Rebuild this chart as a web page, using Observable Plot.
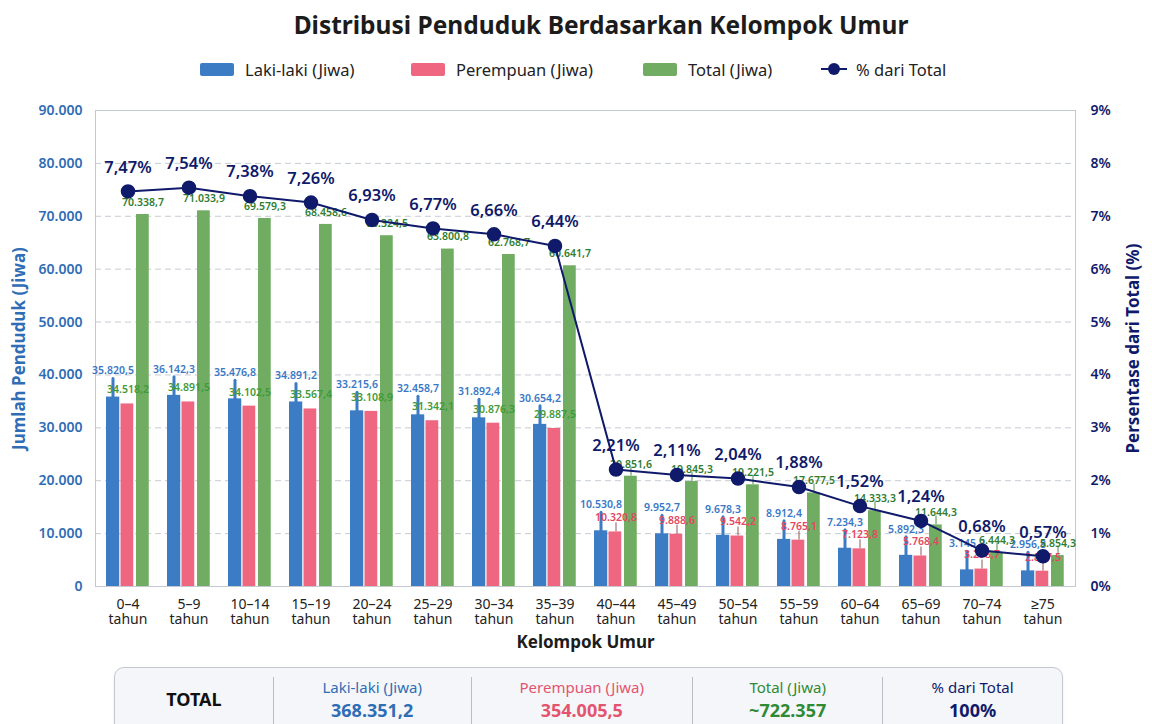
<!DOCTYPE html>
<html>
<head>
<meta charset="utf-8">
<script src="https://cdn.jsdelivr.net/npm/d3@7"></script>
<script src="https://cdn.jsdelivr.net/npm/@observablehq/plot@0.6"></script>
<style>
  html, body { margin: 0; padding: 0; background: #ffffff; }
  body { width: 1152px; height: 724px; overflow: hidden; font-family: "Noto Sans", "Open Sans", sans-serif; }
  #title { height: 50px; line-height: 50px; text-align: center; font-size: 24.5px; font-weight: 700; color: #1c1c1c; padding-left: 50px; }
  #legend { position: relative; height: 38px; font-size: 16.5px; color: #222; }
  .item { position: absolute; top: 0; height: 38px; display: flex; align-items: center; gap: 11px; }
  .sw { width: 34px; height: 13px; border-radius: 2px; }
  .ln { position: relative; width: 22px; height: 14px; }
  .ln::before { content: ""; position: absolute; left: -2px; right: -2px; top: 6px; height: 2px; background: #101a6a; }
  .ln::after { content: ""; position: absolute; left: 5px; top: 1px; width: 12px; height: 12px; border-radius: 50%; background: #101a6a; }
  #chart { height: 572px; }
  #summary { margin: 7px 0 0 114px; width: 947px; height: 72px; border: 1px solid #c3c8d3; border-radius: 10px; background: #f5f6f9; display: flex; box-shadow: 0 1px 3px rgba(0,0,0,0.08); }
  .col { display: flex; flex-direction: column; align-items: center; justify-content: flex-start; border-left: 1px solid #b9bdc6; margin-top: 9px; }
  .col:first-child { border-left: none; }
  .hd { font-size: 15px; line-height: 20px; }
  .vl { font-size: 18px; font-weight: 700; line-height: 26px; }
</style>
</head>
<body>
<div id="title">Distribusi Penduduk Berdasarkan Kelompok Umur</div>
<div id="legend"></div>
<div id="chart"></div>
<div id="summary"></div>
<script>
// ---- data ----
const groups = ["0–4", "5–9", "10–14", "15–19", "20–24", "25–29", "30–34", "35–39",
                "40–44", "45–49", "50–54", "55–59", "60–64", "65–69", "70–74", "≥75"];
const male   = [35820.5, 36142.3, 35476.8, 34891.2, 33215.6, 32458.7, 31892.4, 30654.2,
                10530.8, 9952.7, 9678.3, 8912.4, 7234.3, 5892.3, 3145.2, 2956.8];
const female = [34518.2, 34891.5, 34102.5, 33567.4, 33108.9, 31342.1, 30876.3, 29887.5,
                10320.8, 9888.6, 9542.2, 8765.1, 7123.8, 5768.4, 3298.7, 2897.5];
const total  = [70338.7, 71033.9, 69579.3, 68458.6, 66324.5, 63800.8, 62768.7, 60641.7,
                20851.6, 19845.3, 19221.5, 17677.5, 14333.3, 11644.3, 6444.3, 5854.3];
const pct    = [7.47, 7.54, 7.38, 7.26, 6.93, 6.77, 6.66, 6.44,
                2.21, 2.11, 2.04, 1.88, 1.52, 1.24, 0.68, 0.57];
const yTicks = [0, 10000, 20000, 30000, 40000, 50000, 60000, 70000, 80000, 90000];
const seriesNames = ["Laki-laki (Jiwa)", "Perempuan (Jiwa)", "Total (Jiwa)", "% dari Total"];
const summaryHeads = ["Laki-laki (Jiwa)", "Perempuan (Jiwa)", "Total (Jiwa)", "% dari Total"];
const summaryValues = ["368.351,2", "354.005,5", "~722.357", "100%"];

// ---- styles ----
const BLUE = "#3b7cc4", PINK = "#ef6680", GREEN = "#70ad62", NAVY = "#101a6a";
const BLUE_T = "#3a78c6", PINK_T = "#e4475f", GREEN_T = "#2f7d30";

const loc = d3.formatLocale({decimal: ",", thousands: ".", grouping: [3], currency: ["", ""]});
const fmt1 = loc.format(",.1f");
const fmt0 = loc.format(",.0f");
const pctFmt = v => v.toFixed(2).replace(".", ",") + "%";

const rows = groups.map((g, i) => ({group: g, male: male[i], female: female[i], total: total[i], pct: pct[i]}));
const pctY = d => d.pct * 10000; // 1% on the right axis == 10.000 on the left axis

// legend
const legend = document.getElementById("legend");
const legendLeft = [200, 411, 643, 823];
[[BLUE, "sw"], [PINK, "sw"], [GREEN, "sw"], [null, "ln"]].forEach(([c, cls], i) => {
  const it = document.createElement("div"); it.className = "item"; it.style.left = legendLeft[i] + "px";
  const s = document.createElement("div"); s.className = cls; if (c) s.style.background = c;
  const t = document.createElement("span"); t.textContent = seriesNames[i];
  it.appendChild(s); it.appendChild(t); legend.appendChild(it);
});

const chart = Plot.plot({
  width: 1152, height: 572,
  marginTop: 22, marginBottom: 74, marginLeft: 95, marginRight: 77,
  style: {fontFamily: "Noto Sans, sans-serif", background: "transparent", overflow: "visible"},
  x: {domain: groups, padding: 0, axis: null},
  y: {domain: [0, 90000], axis: null},
  marks: [
    Plot.gridY(yTicks, {stroke: "#c6cbd3", strokeOpacity: 1, strokeDasharray: "6,4"}),
    Plot.frame({stroke: "#c4c8cf"}),
    // whiskers
    Plot.ruleX(rows, {x: "group", y1: "male", y2: "male", dx: -15, insetTop: -18, stroke: BLUE, strokeWidth: 3, strokeLinecap: "round"}),
    Plot.ruleX(rows.filter(d => d.total < 40000), {x: "group", y1: "female", y2: "female", dx: 0, insetTop: -9, stroke: "#8a5a5a", strokeWidth: 1}),
    Plot.ruleX(rows.filter(d => d.total < 40000), {x: "group", y1: "total", y2: "total", dx: 15, insetTop: -9, stroke: "#4f8a45", strokeWidth: 1}),
    // bars
    Plot.barY(rows, {x: "group", y: "male", fill: BLUE, insetLeft: 9, insetRight: 38.75}),
    Plot.barY(rows, {x: "group", y: "female", fill: PINK, insetLeft: 23.5, insetRight: 24.75}),
    Plot.barY(rows, {x: "group", y: "total", fill: GREEN, insetLeft: 39, insetRight: 9.25}),
    // bar labels
    Plot.text(rows, {x: "group", y: "male", text: d => fmt1(d.male), dx: -15, dy: -26, fill: BLUE_T, fontSize: 10.5, fontWeight: 600}),
    Plot.text(rows, {x: "group", y: "female", text: d => fmt1(d.female), dx: 0, dy: -14, fill: d => d.total > 40000 ? "#3f9a3a" : PINK_T, fontSize: 10.5, fontWeight: 600}),
    Plot.text(rows, {x: "group", y: "total", text: d => fmt1(d.total), dx: 15, dy: -12, fill: GREEN_T, fontSize: 10.5, fontWeight: 600}),
    // percent line
    Plot.lineY(rows, {x: "group", y: pctY, stroke: NAVY, strokeWidth: 2}),
    Plot.dot(rows, {x: "group", y: pctY, r: 6.5, fill: NAVY, stroke: NAVY}),
    Plot.text(rows, {x: "group", y: pctY, text: d => pctFmt(d.pct), dy: -24, fill: NAVY, fontSize: 16.5, fontWeight: 600}),
    // axes
    Plot.axisY(yTicks, {anchor: "left", tickSize: 0, tickPadding: 13, tickFormat: d => fmt0(d), fill: "#2f6db5", fontSize: 14, fontWeight: 600, label: null}),
    Plot.axisY(yTicks, {anchor: "right", tickSize: 0, tickPadding: 15, tickFormat: d => (d / 10000) + "%", fill: NAVY, fontSize: 14, fontWeight: 600, label: null}),
    Plot.axisX({tickSize: 0, tickPadding: 12, tickFormat: d => d + "\ntahun", fill: "#222", fontSize: 14, label: null, lineHeight: 1.05}),
    // axis titles
    Plot.text(["Jumlah Penduduk (Jiwa)"], {frameAnchor: "left", textAnchor: "middle", dx: -76, rotate: -90, fill: "#2f6db5", fontSize: 17, fontWeight: 700, text: d => d}),
    Plot.text(["Persentase dari Total (%)"], {frameAnchor: "right", textAnchor: "middle", dx: 58, rotate: -90, fill: NAVY, fontSize: 17, fontWeight: 700, text: d => d}),
    Plot.text(["Kelompok Umur"], {frameAnchor: "bottom", lineAnchor: "middle", dy: 56, fill: "#1c1c1c", fontSize: 17, fontWeight: 700, text: d => d})
  ]
});
document.getElementById("chart").appendChild(chart);

// summary box
const summary = document.getElementById("summary");
const colWidths = [158.5, 197.5, 221.5, 190, 179.5];
const colColors = ["#111", "#2f6db5", "#e4546e", "#2f8a34", NAVY];
colWidths.forEach((w, i) => {
  const c = document.createElement("div"); c.className = "col"; c.style.width = w + "px";
  if (i === 0) {
    c.innerHTML = '<div style="font-size:18px;font-weight:700;color:#111;line-height:26px;margin-top:9px">TOTAL</div>';
  } else {
    const h = document.createElement("div"); h.className = "hd"; h.style.color = colColors[i]; h.textContent = summaryHeads[i - 1];
    const v = document.createElement("div"); v.className = "vl"; v.style.color = colColors[i]; v.textContent = summaryValues[i - 1];
    c.appendChild(h); c.appendChild(v);
  }
  summary.appendChild(c);
});
</script>
</body>
</html>
